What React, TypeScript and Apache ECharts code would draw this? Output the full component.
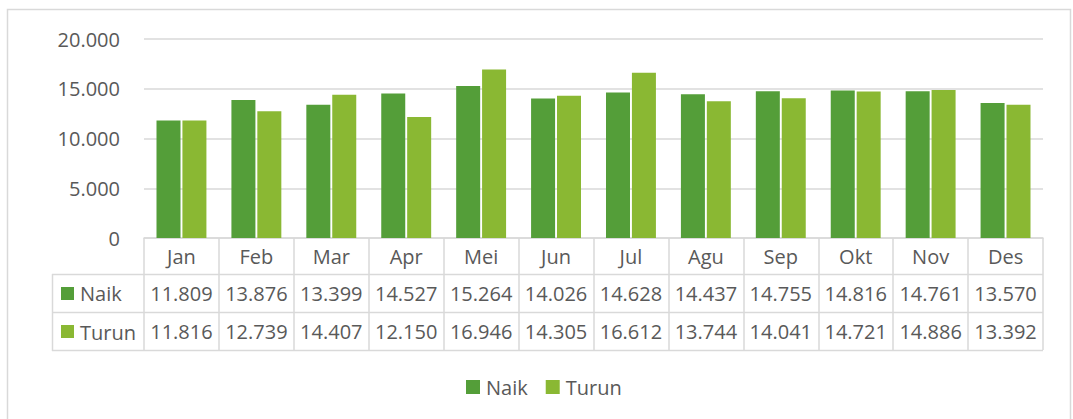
import React, { useEffect, useRef } from "react";
import * as echarts from "echarts";

const months = ["Jan", "Feb", "Mar", "Apr", "Mei", "Jun", "Jul", "Agu", "Sep", "Okt", "Nov", "Des"];
const naik = [11809, 13876, 13399, 14527, 15264, 14026, 14628, 14437, 14755, 14816, 14761, 13570];
const turun = [11816, 12739, 14407, 12150, 16946, 14305, 16612, 13744, 14041, 14721, 14886, 13392];
const seriesNames = ["Naik", "Turun"];
const colors = ["#549E39", "#8AB833"];

const fmt = (n: number) => String(n).replace(/\B(?=(\d{3})+(?!\d))/g, ".");

const FONT = "'Open Sans', sans-serif";
const TXT = "#595959";
const LINE = "#D9D9D9";
const FS = 20;

export default function App() {
  const ref = useRef<HTMLDivElement>(null);
  useEffect(() => {
    if (!ref.current) return;
    const chart = echarts.init(ref.current, undefined, { renderer: "svg" });
    const valueAxisBase = {
      type: "category" as const,
      data: months,
      gridIndex: 0,
      position: "bottom" as const,
      axisLine: { show: false },
      axisTick: { show: false },
    };
    chart.setOption({
      animation: false,
      textStyle: { fontFamily: FONT },
      grid: { left: 144, right: 30, top: 39, bottom: 181, containLabel: false },
      legend: {
        data: seriesNames,
        left: 466,
        top: 377,
        padding: 0,
        icon: "rect",
        itemWidth: 14,
        itemHeight: 14,
        itemGap: 18,
        textStyle: { color: TXT, fontSize: FS, fontFamily: FONT, padding: [0, 0, 0, 1] },
      },
      yAxis: {
        type: "value",
        min: 0,
        max: 20000,
        interval: 5000,
        axisLine: { show: false },
        axisTick: { show: false },
        splitLine: { lineStyle: { color: LINE, width: 1.5 } },
        axisLabel: { color: TXT, fontSize: FS, fontFamily: FONT, margin: 24, formatter: (v: number) => fmt(v) },
      },
      xAxis: [
        {
          type: "category",
          data: months,
          position: "bottom",
          axisLine: { show: true, lineStyle: { color: LINE, width: 1.5 } },
          axisTick: { show: true, interval: 0, length: 112, lineStyle: { color: LINE, width: 1.5 } },
          axisLabel: { color: TXT, fontSize: FS, fontFamily: FONT, margin: 18, verticalAlign: "middle", interval: 0 },
        },
        {
          ...valueAxisBase,
          offset: 37,
          axisLabel: {
            color: TXT, fontSize: FS, fontFamily: FONT, margin: 18, verticalAlign: "middle", interval: 0,
            formatter: (_v: string, i: number) => fmt(naik[i]),
          },
        },
        {
          ...valueAxisBase,
          offset: 75,
          axisLabel: {
            color: TXT, fontSize: FS, fontFamily: FONT, margin: 18, verticalAlign: "middle", interval: 0,
            formatter: (_v: string, i: number) => fmt(turun[i]),
          },
        },
      ],
      series: [
        { name: seriesNames[0], type: "bar", data: naik, xAxisIndex: 0, barWidth: 24, barGap: "8%", itemStyle: { color: colors[0] } },
        { name: seriesNames[1], type: "bar", data: turun, xAxisIndex: 0, barWidth: 24, barGap: "8%", itemStyle: { color: colors[1] } },
      ],
      graphic: [
        { type: "rect", shape: { x: 7.5, y: 9.5, width: 1063, height: 430 }, style: { fill: "none", stroke: LINE, lineWidth: 1.5 }, z: -1 },
        { type: "line", shape: { x1: 52, y1: 274.5, x2: 1043, y2: 274.5 }, style: { stroke: LINE, lineWidth: 1.5 } },
        { type: "line", shape: { x1: 52, y1: 312.5, x2: 1043, y2: 312.5 }, style: { stroke: LINE, lineWidth: 1.5 } },
        { type: "line", shape: { x1: 52, y1: 350.5, x2: 1043, y2: 350.5 }, style: { stroke: LINE, lineWidth: 1.5 } },
        { type: "line", shape: { x1: 52.5, y1: 274, x2: 52.5, y2: 351 }, style: { stroke: LINE, lineWidth: 1.5 } },
        { type: "rect", shape: { x: 61, y: 287, width: 13, height: 13 }, style: { fill: colors[0] } },
        { type: "text", x: 80, y: 293.5, style: { text: seriesNames[0], fill: TXT, font: `${FS}px ${FONT}`, verticalAlign: "middle" } },
        { type: "rect", shape: { x: 61, y: 325, width: 13, height: 13 }, style: { fill: colors[1] } },
        { type: "text", x: 80, y: 332, style: { text: seriesNames[1], fill: TXT, font: `${FS}px ${FONT}`, verticalAlign: "middle" } },
      ],
    });
    return () => chart.dispose();
  }, []);
  return <div ref={ref} style={{ position: "absolute", left: 0, top: 0, width: 1073, height: 419, background: "#fff" }} />;
}
